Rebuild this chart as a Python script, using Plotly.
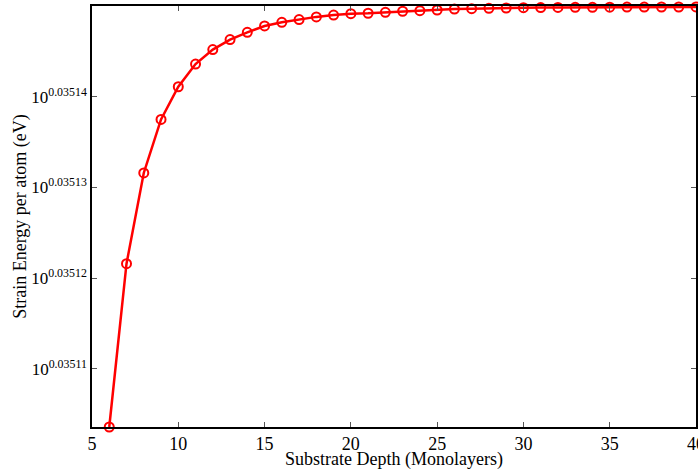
import plotly.graph_objects as go

depth = list(range(6, 41))
# log10 of strain energy per atom (eV)
log10_energy = [
    0.0351036, 0.0351216, 0.0351316, 0.0351375, 0.0351411, 0.0351436,
    0.0351452, 0.0351463, 0.0351471, 0.0351478, 0.0351482, 0.0351485,
    0.0351488, 0.0351490, 0.03514915, 0.0351492, 0.0351493, 0.03514942,
    0.03514948, 0.03514956, 0.03514967, 0.0351497, 0.03514975, 0.03514978,
    0.03514981, 0.03514983, 0.03514984, 0.03514985, 0.03514986, 0.03514987,
    0.03514988, 0.03514988, 0.03514989, 0.03514989, 0.0351499,
]
energy = [10 ** v for v in log10_energy]

y_tick_exps = ["0.03511", "0.03512", "0.03513", "0.03514"]
x_ticks = [5, 10, 15, 20, 25, 30, 35, 40]

fig = go.Figure()
fig.add_trace(go.Scatter(
    x=depth, y=energy, mode="lines+markers",
    line=dict(color="#ff0000", width=2.5),
    marker=dict(symbol="circle-open", size=9, color="#ff0000", line=dict(width=2)),
    cliponaxis=False,
))

font = "Liberation Serif, Times New Roman, serif"
fig.update_layout(
    width=698, height=470,
    margin=dict(l=92, r=2, t=6, b=43, autoexpand=False),
    paper_bgcolor="white", plot_bgcolor="white",
    showlegend=False,
    font=dict(family=font, color="black"),
    xaxis=dict(
        range=[5, 40], tickvals=x_ticks, ticktext=[str(t) for t in x_ticks],
        ticks="inside", ticklen=5, tickcolor="#555", mirror="ticks",
        showline=True, linecolor="black", linewidth=1.5, showgrid=False, zeroline=False,
        tickfont=dict(size=18, family=font), automargin=False, ticklabeloverflow="allow",
        title=dict(text="Substrate Depth (Monolayers)", font=dict(size=18, family=font), standoff=0),
    ),
    yaxis=dict(
        type="log", range=[0.0351036, 0.03515],
        tickvals=[10 ** float(e) for e in y_tick_exps],
        ticktext=["10<sup>" + e + "</sup>" for e in y_tick_exps],
        ticks="inside", ticklen=5, tickcolor="#555", mirror="ticks",
        showline=True, linecolor="black", linewidth=1.5, showgrid=False, zeroline=False,
        tickfont=dict(size=17, family=font), automargin=False, ticklabeloverflow="allow",
        title=dict(text="Strain Energy per atom (eV)", font=dict(size=18, family=font), standoff=0),
    ),
)

fig.write_html(
    "out.html",
    config={"displayModeBar": False},
    post_script="document.body.style.margin='0px';document.body.style.overflow='hidden';",
)
